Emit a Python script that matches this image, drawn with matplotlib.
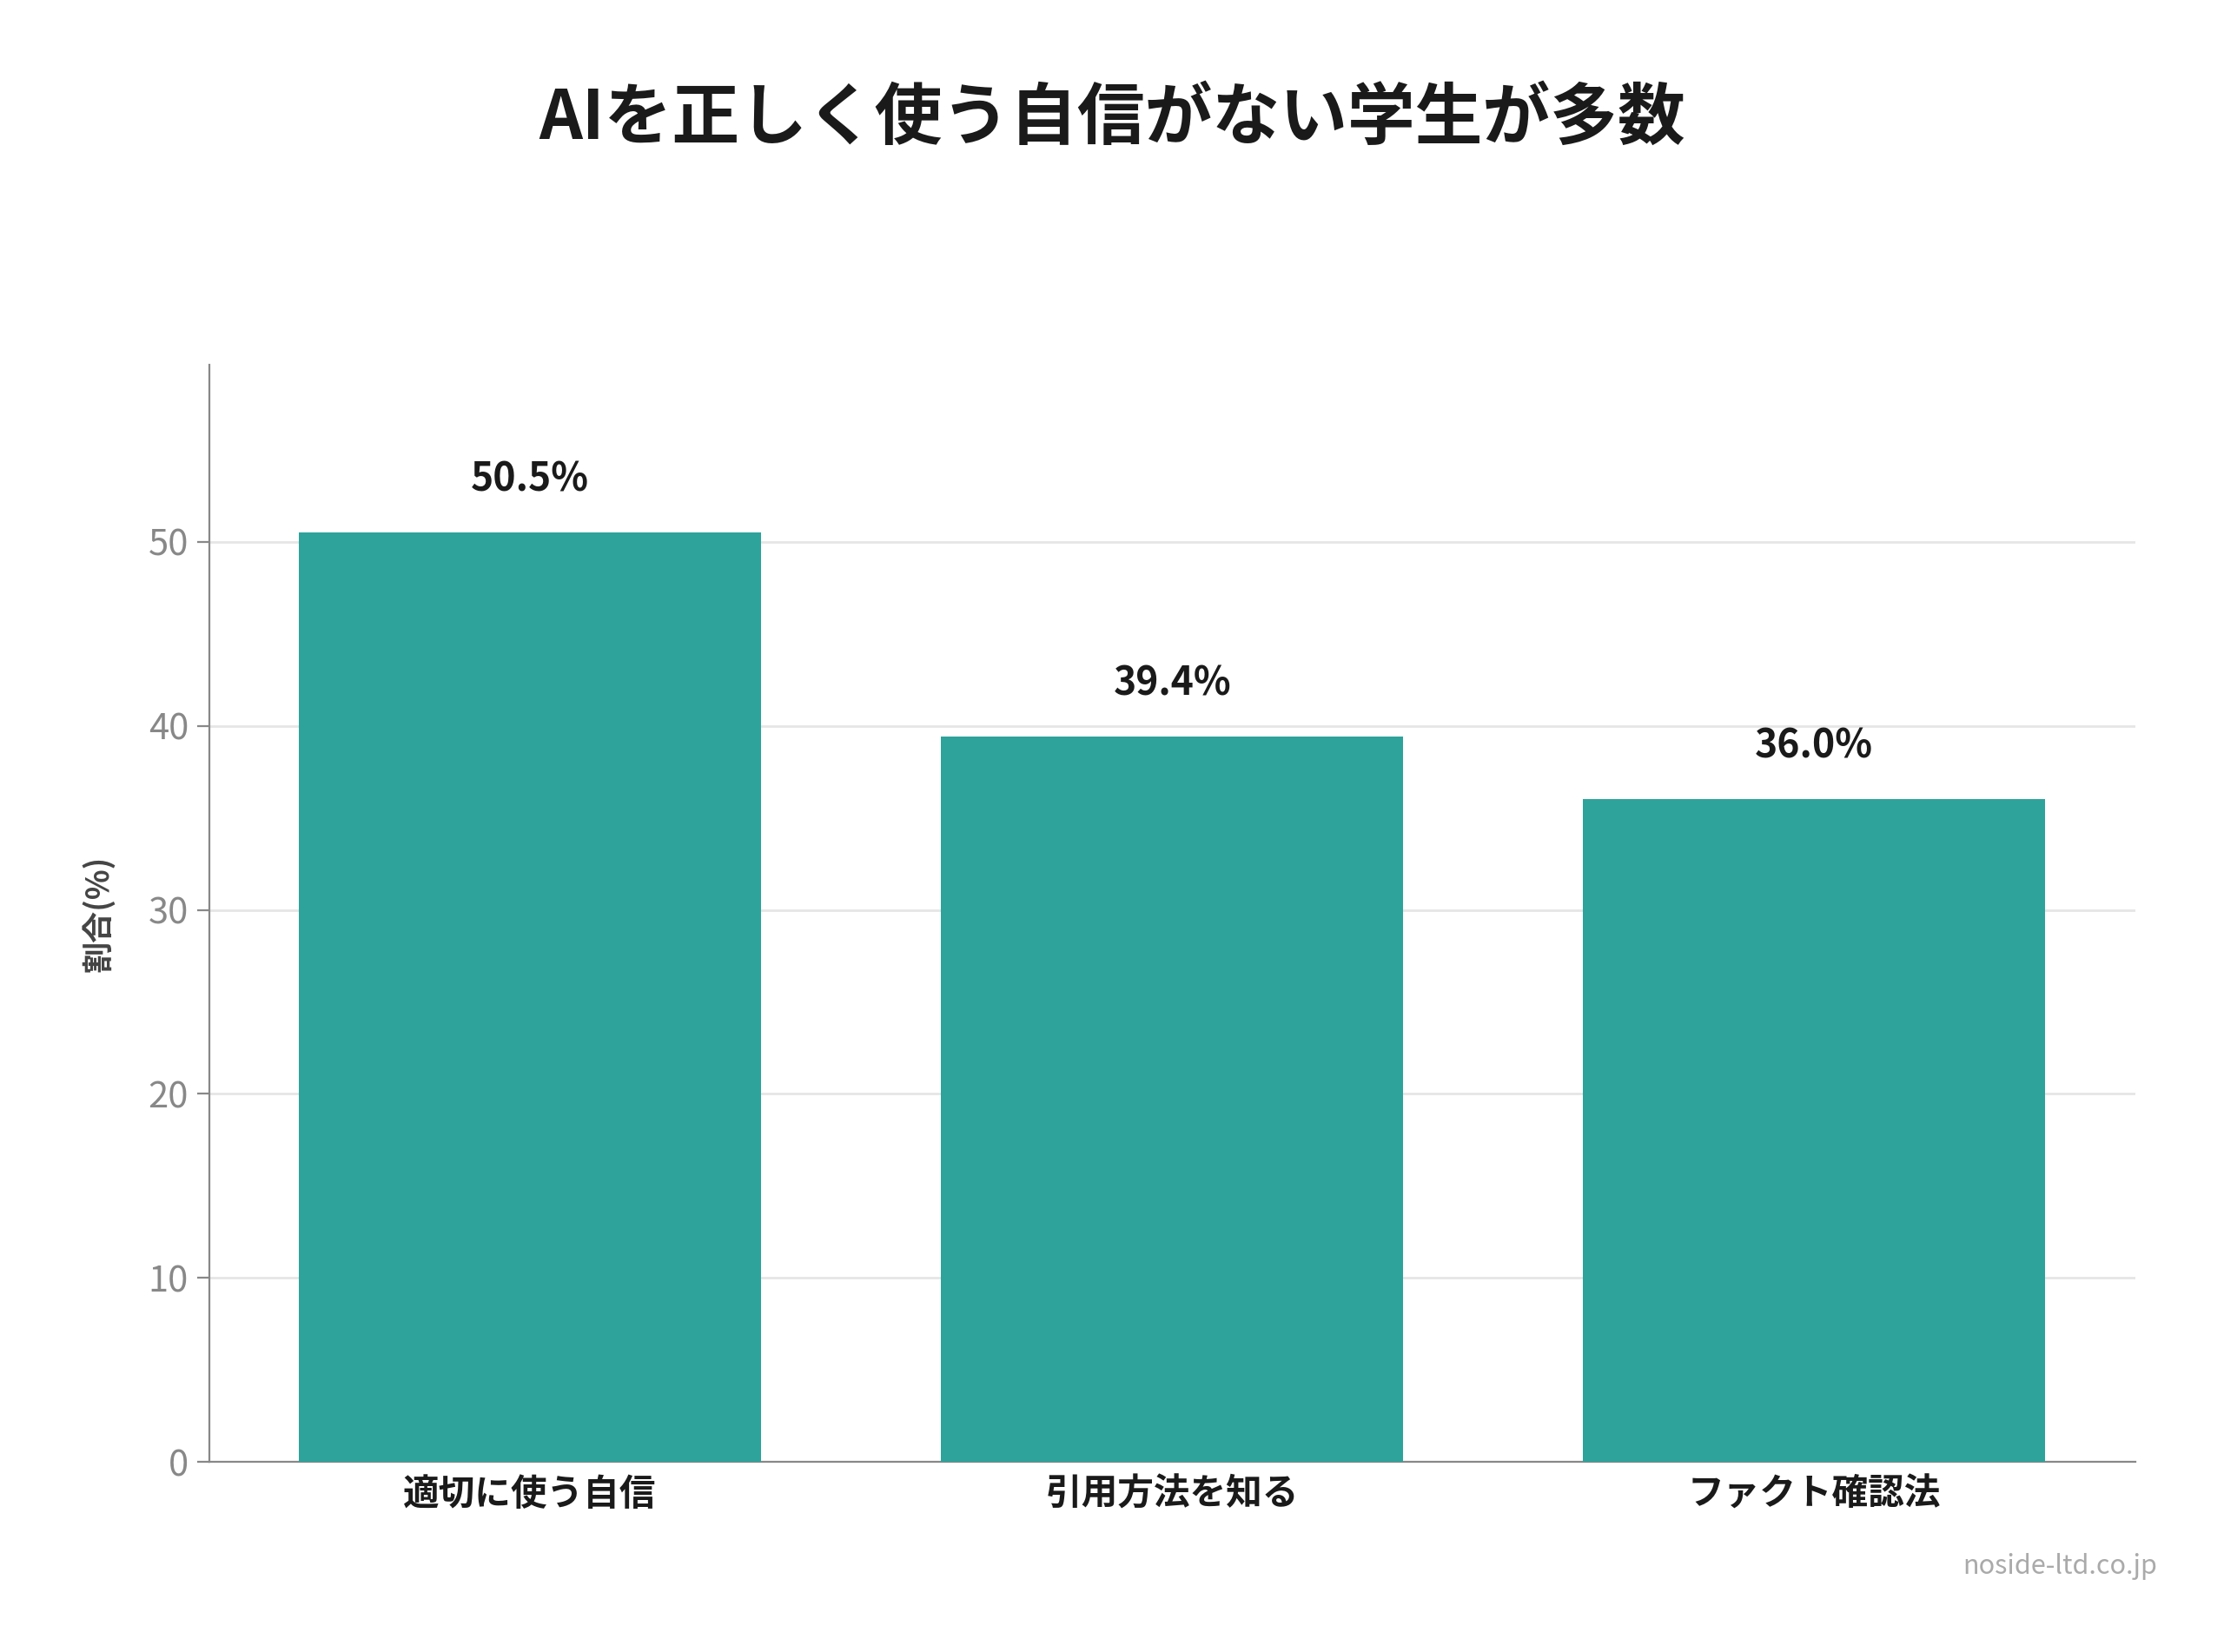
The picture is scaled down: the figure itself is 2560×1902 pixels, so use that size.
import matplotlib
matplotlib.use("Agg")
import matplotlib.pyplot as plt

plt.rcParams['font.family'] = ['Noto Sans CJK JP', 'DejaVu Sans']

categories = ["適切に使う自信", "引用方法を知る", "ファクト確認法"]
values = [50.5, 39.4, 36.0]
labels = ["50.5%", "39.4%", "36.0%"]
yticks = [0, 10, 20, 30, 40, 50]

fig = plt.figure(figsize=(12.8, 9.51), dpi=200)
ax = fig.add_axes([0.094, 0.115, 0.866, 0.664])
x = range(len(categories))
ax.bar(x, values, width=0.72, color="#2EA39B", zorder=3)
for xi, v, l in zip(x, values, labels):
    ax.text(xi, v + 1.8, l, ha="center", va="bottom", fontsize=16, fontweight="bold", color="#1a1a1a")
ax.set_xlim(-0.5, 2.5)
ax.set_ylim(0, 59.6)
ax.set_yticks(yticks)
ax.set_xticks(list(x))
ax.set_xticklabels(categories, fontsize=15, fontweight="bold", color="#1a1a1a")
ax.tick_params(axis="x", length=0, pad=6)
ax.tick_params(axis="y", labelsize=15, labelcolor="#888888", color="#888888", length=5)
ax.grid(axis="y", color="#e6e6e6", linewidth=1, zorder=0)
for s in ["top", "right"]:
    ax.spines[s].set_visible(False)
for s in ["left", "bottom"]:
    ax.spines[s].set_color("#888888")
ax.set_ylabel("割合(%)", fontsize=13, fontweight="bold", color="#444444", labelpad=14)
fig.text(0.5, 0.928, "AIを正しく使う自信がない学生が多数", ha="center", va="center",
         fontsize=28, fontweight="bold", color="#1a1a1a")
fig.text(0.97, 0.052, "noside-ltd.co.jp", ha="right", va="center", fontsize=11, color="#aaaaaa")
fig.savefig("out.png", dpi=200, facecolor="white")
